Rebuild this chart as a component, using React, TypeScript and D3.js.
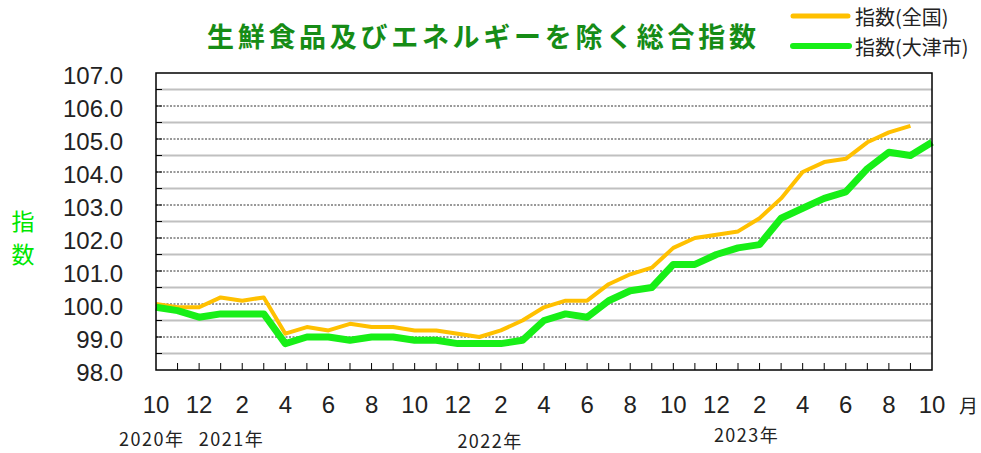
import React from "react";
import * as d3 from "d3";

// months from 2020-10 to 2023-10, label every second month
const monthTicks = ["10", "12", "2", "4", "6", "8", "10", "12", "2", "4", "6", "8", "10", "12", "2", "4", "6", "8", "10"];
const yTicks = [98, 99, 100, 101, 102, 103, 104, 105, 106, 107];
const yearLabels = ["2020年", "2021年", "2022年", "2023年"];
const yearAt = [-0.2, 3.5, 15.5, 27.4];
const yearDy = [0, 0, 2, -4];

// 指数(全国)
const national = [100.0, 99.9, 99.9, 100.2, 100.1, 100.2, 99.1, 99.3, 99.2, 99.4, 99.3, 99.3, 99.2, 99.2, 99.1, 99.0, 99.2, 99.5, 99.9, 100.1, 100.1, 100.6, 100.9, 101.1, 101.7, 102.0, 102.1, 102.2, 102.6, 103.2, 104.0, 104.3, 104.4, 104.9, 105.2, 105.4];
// 指数(大津市)
const otsu = [99.9, 99.8, 99.6, 99.7, 99.7, 99.7, 98.8, 99.0, 99.0, 98.9, 99.0, 99.0, 98.9, 98.9, 98.8, 98.8, 98.8, 98.9, 99.5, 99.7, 99.6, 100.1, 100.4, 100.5, 101.2, 101.2, 101.5, 101.7, 101.8, 102.6, 102.9, 103.2, 103.4, 104.1, 104.6, 104.5, 104.9];

const ORANGE = "#ffc000";
const GREEN = "#17ef17";
const latin = "'Liberation Sans', Arial, sans-serif";
const jp = "'Noto Sans CJK JP', sans-serif";

export default function App() {
  const W = 981, H = 453;
  const left = 156, right = 932, top = 73, bottom = 370;
  const x = d3.scaleLinear().domain([0, 36]).range([left, right]);
  const y = d3.scaleLinear().domain([98, 107]).range([bottom, top]);

  const line = d3.line<number>()
    .x((d, i) => x(i))
    .y(d => y(d));

  const halves = d3.range(98.5, 107, 1);
  const wholes = d3.range(99, 107, 1);
  const months = d3.range(1, 36);

  return (
    <svg width={W} height={H} style={{ position: "absolute", left: 0, top: 0, background: "#fff" }}>
      <text x={207} y={35} fill="#168c16" fontFamily={jp} fontWeight="bold" fontSize={27}
        letterSpacing={3.7} dominantBaseline="central">生鮮食品及びエネルギーを除く総合指数</text>

      {/* legend */}
      <line x1={793} x2={848} y1={16} y2={16} stroke={ORANGE} strokeWidth={5} strokeLinecap="round" />
      <text x={855} y={16} fontFamily={jp} fontSize={20} fill="#222" dominantBaseline="central">指数(全国)</text>
      <line x1={793} x2={849} y1={46} y2={46} stroke={GREEN} strokeWidth={6} strokeLinecap="round" />
      <text x={855} y={46} fontFamily={jp} fontSize={20} fill="#222" dominantBaseline="central">指数(大津市)</text>

      {/* y label */}
      <text x={23} y={220} fill="#00e600" fontFamily={jp} fontSize={23} textAnchor="middle" dominantBaseline="central">指</text>
      <text x={23} y={253} fill="#00e600" fontFamily={jp} fontSize={23} textAnchor="middle" dominantBaseline="central">数</text>

      {/* grid */}
      {halves.map(v => (
        <line key={"h" + v} x1={left} x2={right} y1={y(v)} y2={y(v)} stroke="#c0c0c0" strokeWidth={2} />
      ))}
      {wholes.map(v => (
        <line key={"w" + v} x1={left} x2={right} y1={y(v)} y2={y(v)} stroke="#333" strokeWidth={1} strokeDasharray="2,1.5" />
      ))}
      {d3.range(98.5, 107, 0.5).map(v => (
        <line key={"t" + v} x1={left} x2={left + 6} y1={y(v)} y2={y(v)} stroke="#000" strokeWidth={1} />
      ))}
      {months.map(k => (
        <line key={"m" + k} x1={x(k)} x2={x(k)} y1={bottom} y2={bottom - 7} stroke="#000" strokeWidth={1} />
      ))}

      {/* series */}
      <path d={line(national) || ""} fill="none" stroke={ORANGE} strokeWidth={4} strokeLinejoin="round" />
      <path d={line(otsu) || ""} fill="none" stroke={GREEN} strokeWidth={7} strokeLinejoin="round" />

      <rect x={left} y={top} width={right - left} height={bottom - top} fill="none" stroke="#000" strokeWidth={1.5} />

      {/* y ticks */}
      {yTicks.map(v => (
        <text key={"y" + v} x={123} y={y(v) + 2} textAnchor="end" dominantBaseline="central"
          fontFamily={latin} fontSize={24} fill="#222">{v.toFixed(1)}</text>
      ))}

      {/* x ticks */}
      {monthTicks.map((m, i) => (
        <text key={"x" + i} x={x(i * 2)} y={404} textAnchor="middle" dominantBaseline="central"
          fontFamily={latin} fontSize={24} fill="#222">{m}</text>
      ))}
      <text x={959} y={404} dominantBaseline="central" fontFamily={jp} fontSize={19} fill="#222">月</text>

      {yearLabels.map((t, i) => (
        <text key={t} x={x(yearAt[i])} y={438 + yearDy[i]} textAnchor="middle" dominantBaseline="central"
          fontFamily={jp} fontSize={18} letterSpacing={1.5} fill="#222">{t}</text>
      ))}
    </svg>
  );
}
